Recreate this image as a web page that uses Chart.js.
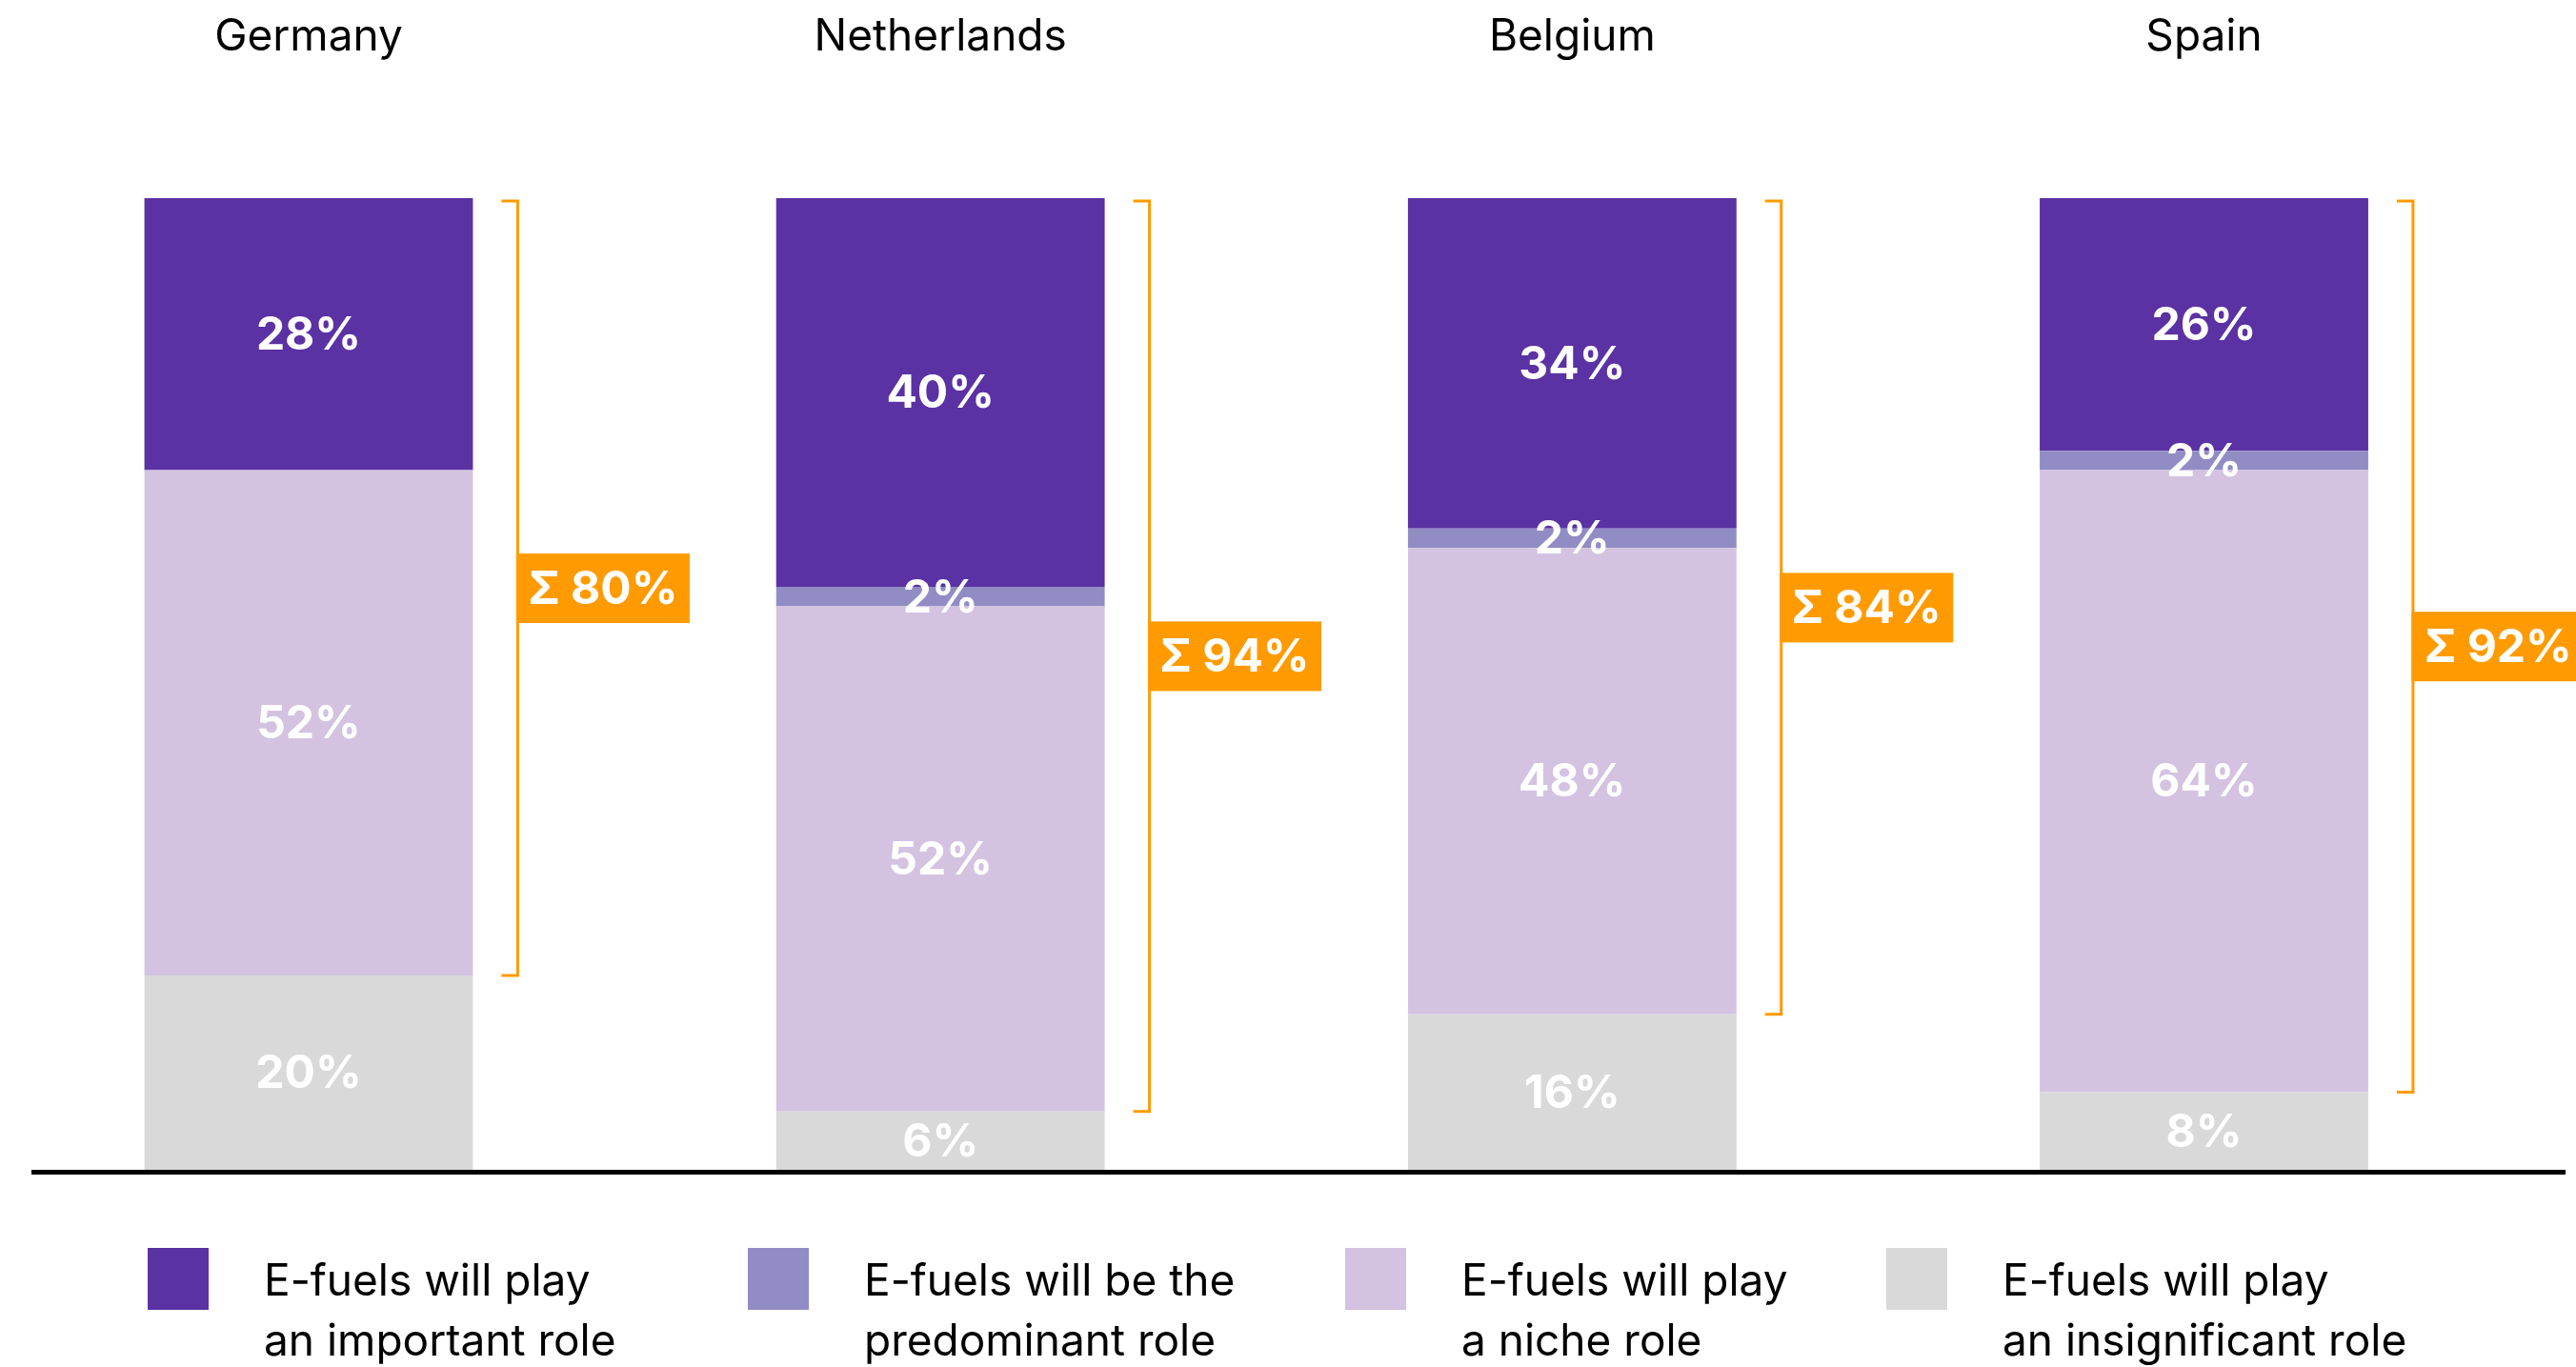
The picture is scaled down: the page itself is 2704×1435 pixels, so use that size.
<!DOCTYPE html>
<html>
<head>
<meta charset="utf-8">
<script src="https://cdn.jsdelivr.net/npm/chart.js@4.4.1/dist/chart.umd.min.js"></script>
<style>
  html, body { margin: 0; padding: 0; background: #ffffff; overflow: hidden; }
  canvas { display: block; }
</style>
</head>
<body>
<canvas id="chart" width="2704" height="1435"></canvas>
<script>
// Survey shares per country (percent of respondents)
const countries     = ['Germany', 'Netherlands', 'Belgium', 'Spain'];
const important     = [28, 40, 34, 26];
const predominant   = [0, 2, 2, 2];
const niche         = [52, 52, 48, 64];
const insignificant = [20, 6, 16, 8];

// Series names, split over two lines for the legend
const nameImportant     = ['E-fuels will play', 'an important role'];
const namePredominant   = ['E-fuels will be the', 'predominant role'];
const nameNiche         = ['E-fuels will play', 'a niche role'];
const nameInsignificant = ['E-fuels will play', 'an insignificant role'];

const COLORS = {
  important: '#5A32A3',
  predominant: '#928CC4',
  niche: '#D3C3E1',
  insignificant: '#D9D9D9',
  accent: '#FF9B00'
};
const FONT = 'Inter, "Open Sans", "DejaVu Sans", sans-serif';

// Stacked bottom to top
const datasets = [
  { key: 'insignificant', lines: nameInsignificant, data: insignificant, backgroundColor: COLORS.insignificant },
  { key: 'niche',         lines: nameNiche,         data: niche,         backgroundColor: COLORS.niche },
  { key: 'predominant',   lines: namePredominant,   data: predominant,   backgroundColor: COLORS.predominant },
  { key: 'important',     lines: nameImportant,     data: important,     backgroundColor: COLORS.important }
].map(d => Object.assign(d, { label: d.lines.join(' '), borderWidth: 0, clip: false }));

// Legend order (top of stack first) and its layout
const legendOrder = ['important', 'predominant', 'niche', 'insignificant'];
const legendLayout = { lefts: [155, 785, 1412, 1980], swatchTop: 1310, swatchW: 64, swatchH: 65, textGap: 122, baselines: [1360, 1423] };
const baselineSpan = { left: 33, right: 2693, width: 5 };

const decorations = {
  id: 'decorations',
  afterDatasetsDraw(chart) {
    const { ctx, scales: { x, y } } = chart;
    ctx.save();

    // Baseline
    const y0 = y.getPixelForValue(0);
    ctx.fillStyle = '#000000';
    ctx.fillRect(baselineSpan.left, y0, baselineSpan.right - baselineSpan.left, baselineSpan.width);

    // Segment value labels
    ctx.font = '700 48px ' + FONT;
    ctx.fillStyle = '#ffffff';
    ctx.textAlign = 'center';
    ctx.textBaseline = 'middle';
    chart.data.datasets.forEach((ds, di) => {
      const meta = chart.getDatasetMeta(di);
      meta.data.forEach((bar, i) => {
        const v = ds.data[i];
        if (!v) return;
        const p = bar.getProps(['x', 'y', 'base'], true);
        ctx.fillText(v + '%', p.x, (p.y + p.base) / 2 + 2);
      });
    });

    // Brackets with sum boxes (everything above "insignificant")
    const topIdx = chart.data.datasets.findIndex(d => d.key === 'important');
    const topMeta = chart.getDatasetMeta(topIdx);
    countries.forEach((c, i) => {
      const p = topMeta.data[i].getProps(['x', 'width'], true);
      const bx = p.x + p.width / 2 + 47;
      const top = y.getPixelForValue(100) + 3;
      const bottom = y.getPixelForValue(insignificant[i]);
      ctx.strokeStyle = COLORS.accent;
      ctx.lineWidth = 3;
      ctx.lineJoin = 'miter';
      ctx.beginPath();
      ctx.moveTo(bx - 17, top);
      ctx.lineTo(bx, top);
      ctx.lineTo(bx, bottom);
      ctx.lineTo(bx - 17, bottom);
      ctx.stroke();

      const sum = important[i] + predominant[i] + niche[i];
      const mid = (top + bottom) / 2;
      const boxW = 182, boxH = 73;
      ctx.fillStyle = COLORS.accent;
      ctx.fillRect(bx - 1.5, mid - boxH / 2, boxW, boxH);
      ctx.fillStyle = '#ffffff';
      ctx.font = '700 48px ' + FONT;
      ctx.textAlign = 'center';
      ctx.textBaseline = 'middle';
      ctx.fillText('\u03A3 ' + sum + '%', bx - 1.5 + boxW / 2, mid + 2);
    });

    // Country titles above each bar
    ctx.fillStyle = '#000000';
    ctx.font = '400 46px ' + FONT;
    ctx.textAlign = 'center';
    ctx.textBaseline = 'alphabetic';
    countries.forEach((c, i) => ctx.fillText(c, x.getPixelForValue(i), 53));

    // Legend
    ctx.font = '400 46px ' + FONT;
    ctx.textAlign = 'left';
    legendOrder.forEach((key, k) => {
      const ds = chart.data.datasets.find(d => d.key === key);
      const left = legendLayout.lefts[k];
      ctx.fillStyle = ds.backgroundColor;
      ctx.fillRect(left, legendLayout.swatchTop, legendLayout.swatchW, legendLayout.swatchH);
      ctx.fillStyle = '#000000';
      ds.lines.forEach((line, li) => ctx.fillText(line, left + legendLayout.textGap, legendLayout.baselines[li]));
    });

    ctx.restore();
  }
};

new Chart(document.getElementById('chart'), {
  type: 'bar',
  data: { labels: countries, datasets },
  options: {
    responsive: false,
    animation: false,
    events: [],
    layout: { padding: { top: 208, bottom: 207, left: 324, right: 390.5 } },
    datasets: { bar: { barPercentage: 1, categoryPercentage: 0.52 } },
    scales: {
      x: { stacked: true, offset: false, display: false },
      y: { stacked: true, min: 0, max: 100, display: false }
    },
    plugins: { legend: { display: false }, tooltip: { enabled: false } }
  },
  plugins: [decorations]
});
</script>
</body>
</html>
